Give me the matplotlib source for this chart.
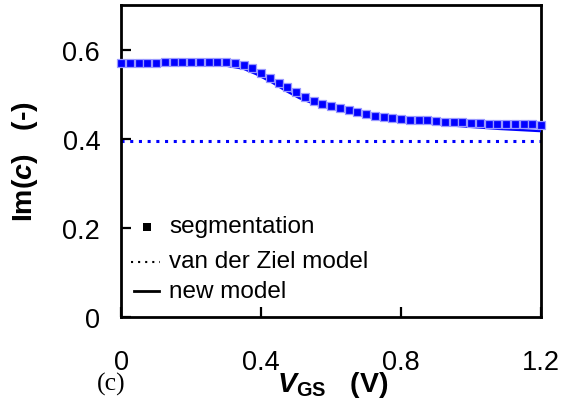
import numpy as np
import matplotlib
matplotlib.use("Agg")
import matplotlib.pyplot as plt
from matplotlib.lines import Line2D

plt.rcParams["font.family"] = ["Liberation Sans", "DejaVu Sans"]
plt.rcParams["mathtext.fontset"] = "custom"
plt.rcParams["mathtext.rm"] = "Liberation Sans"
plt.rcParams["mathtext.it"] = "Liberation Sans:italic"
plt.rcParams["mathtext.bf"] = "Liberation Sans:bold"
plt.rcParams["mathtext.bfit"] = "Liberation Sans:bold:italic"

# Gate voltage grid of the segmentation simulation (V)
vgs_seg = np.linspace(0.0, 1.2, 49)
# Im(c) from the segmentation method
imc_seg = [0.570, 0.570, 0.570, 0.570, 0.570, 0.571, 0.571, 0.571, 0.571, 0.572,
           0.572, 0.572, 0.572, 0.569, 0.566, 0.559, 0.548, 0.537, 0.526, 0.515,
           0.504, 0.494, 0.485, 0.479, 0.474, 0.469, 0.465, 0.460, 0.455, 0.452,
           0.449, 0.447, 0.445, 0.443, 0.442, 0.441, 0.439, 0.438, 0.437, 0.437,
           0.436, 0.435, 0.434, 0.434, 0.434, 0.433, 0.432, 0.432, 0.431]

# New compact model
vgs_model = [0.0, 0.10, 0.20, 0.30, 0.35, 0.386, 0.43, 0.47, 0.51, 0.56,
             0.61, 0.70, 0.80, 0.89, 0.99, 1.08, 1.20]
imc_model = [0.564, 0.564, 0.564, 0.564, 0.557, 0.545, 0.527, 0.508, 0.491, 0.476,
             0.467, 0.450, 0.440, 0.433, 0.427, 0.422, 0.417]

# Classical van der Ziel value
vgs_vdz = [0.0, 1.2]
imc_vdz = [0.395, 0.395]

x_ticks = [0, 0.4, 0.8, 1.2]
x_ticklabels = ["0", "0.4", "0.8", "1.2"]
y_ticks = [0, 0.2, 0.4, 0.6]
y_ticklabels = ["0", "0.2", "0.4", "0.6"]

blue = "#0000ff"

fig = plt.figure(figsize=(5.61, 4.14), dpi=100)
ax = fig.add_axes([0.2157, 0.2319, 0.7487, 0.7536])

ax.plot(vgs_vdz, imc_vdz, color=blue, lw=2.2, linestyle=(0, (1, 1.85)),
        dash_capstyle="butt", zorder=2)
ax.plot(vgs_model, imc_model, color=blue, lw=1.7, zorder=3)
ax.plot(vgs_seg, imc_seg, linestyle="none", marker="s", markersize=5.6,
        markerfacecolor=blue, markeredgecolor="#9a9aff", markeredgewidth=0.9,
        zorder=4, clip_on=False)

ax.set_xlim(0, 1.2)
ax.set_ylim(0, 0.7)
ax.set_xticks(x_ticks)
ax.set_xticklabels(x_ticklabels)
ax.set_yticks(y_ticks)
ax.set_yticklabels(y_ticklabels)

for s in ax.spines.values():
    s.set_linewidth(2.0)
ax.tick_params(axis="both", direction="in", length=7, width=1.6, labelsize=19.5)
ax.tick_params(axis="x", pad=23)
ax.tick_params(axis="y", pad=15)

# Legend drawn by hand in axes coordinates
ax.add_line(Line2D([0.062], [0.288], transform=ax.transAxes, marker="s",
                   markersize=5.3, markeredgewidth=0, color="black",
                   linestyle="none"))
ax.add_line(Line2D([0.024, 0.093], [0.175, 0.175], transform=ax.transAxes,
                   color="black", lw=1.5, linestyle=(0, (1, 2.4))))
ax.add_line(Line2D([0.030, 0.091], [0.084, 0.084], transform=ax.transAxes,
                   color="black", lw=2.0))
ax.text(0.114, 0.272, "segmentation", transform=ax.transAxes, fontsize=17.5,
        va="baseline", ha="left")
ax.text(0.114, 0.160, "van der Ziel model", transform=ax.transAxes, fontsize=17.5,
        va="baseline", ha="left")
ax.text(0.114, 0.064, "new model", transform=ax.transAxes, fontsize=17.5,
        va="baseline", ha="left")

fig.text(25 / 561, 1 - 162 / 414, r"Im($\mathbfit{c}$)   (-)", rotation=90,
         fontsize=20.5, fontweight="bold", ha="center", va="center")
fig.text(333 / 561, 1 - 392 / 414, r"$\mathbfit{V}_{\mathbf{GS}}$   (V)",
         fontsize=20.5, fontweight="bold", ha="center", va="baseline")
fig.text(111 / 561, 1 - 391 / 414, "(c)", fontsize=18.5,
         family="Liberation Serif", ha="center", va="baseline")

fig.savefig("out.png", dpi=100)
